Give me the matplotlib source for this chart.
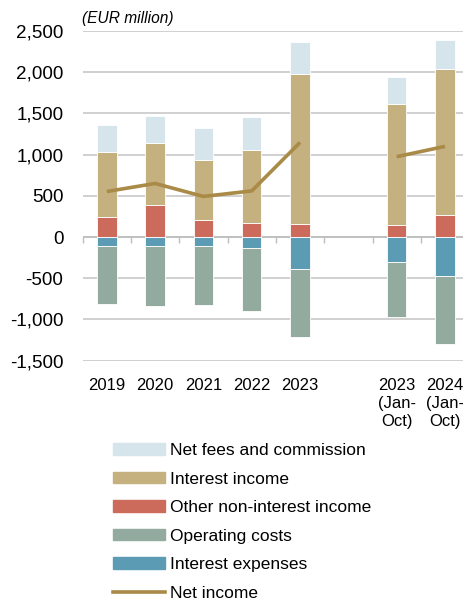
import numpy as np
import matplotlib
matplotlib.use("Agg")
import matplotlib.pyplot as plt
from matplotlib.patches import Patch
from matplotlib.lines import Line2D

plt.rcParams['font.family'] = ['Liberation Sans', 'DejaVu Sans']

categories = ['2019', '2020', '2021', '2022', '2023', '', '2023\n(Jan-\nOct)', '2024\n(Jan-\nOct)']
other_nii = [240, 392, 202, 170, 153, np.nan, 146, 262]
interest_income = [788, 752, 736, 881, 1829, np.nan, 1472, 1781]
net_fees = [331, 328, 384, 402, 388, np.nan, 327, 351]
interest_exp = [-106, -109, -109, -134, -385, np.nan, -300, -470]
operating_costs = [-707, -725, -717, -760, -833, np.nan, -667, -825]
net_income = [553, 650, 493, 560, 1148, np.nan, 975, 1100]
yticks = [-1500, -1000, -500, 0, 500, 1000, 1500, 2000, 2500]

c_fees = '#D6E4EC'
c_int = '#C5B07F'
c_other = '#CC6A5C'
c_op = '#93AB9F'
c_iexp = '#5B9BB3'
c_net = '#A98A47'

W, H, DPI = 463, 602, 100
fig = plt.figure(figsize=(W / DPI, H / DPI), dpi=DPI)
ax = fig.add_axes([82.7 / W, 1 - 360.7 / H, (W - 82.7) / W, (360.7 - 31) / H])

x = np.arange(len(categories))
oth = np.array(other_nii, float)
ii = np.array(interest_income, float)
fe = np.array(net_fees, float)
ie = np.array(interest_exp, float)
oc = np.array(operating_costs, float)

bw = 0.4
ekw = dict(edgecolor='white', linewidth=0.6, zorder=3)
ax.bar(x, oth, bw, color=c_other, **ekw)
ax.bar(x, ii, bw, bottom=oth, color=c_int, **ekw)
ax.bar(x, fe, bw, bottom=oth + ii, color=c_fees, **ekw)
ax.bar(x, ie, bw, color=c_iexp, **ekw)
ax.bar(x, oc, bw, bottom=ie, color=c_op, **ekw)
ax.plot(x, net_income, color=c_net, linewidth=2.6, zorder=4, solid_capstyle='butt')

ax.set_ylim(-1500, 2500)
ax.set_xlim(-0.5, -0.5 + (W - 82.7) / 48.3)
ax.set_yticks(yticks)
ax.set_yticklabels([f'{v:,}' for v in yticks], fontsize=13.6)
ax.tick_params(axis='y', length=0, pad=14)
ax.yaxis.grid(True, color='#C8C8C8', linewidth=1.2, zorder=0)
ax.set_axisbelow(True)
ax.axhline(0, color='#BDBDBD', linewidth=1.2, zorder=2)

ax.set_xticks(x)
ax.set_xticklabels(categories, fontsize=12, linespacing=1.25, va='top')
ax.tick_params(axis='x', length=0, pad=12.5)
for s in ax.spines.values():
    s.set_visible(False)

# tick marks along zero line at category boundaries
ylo, yhi = ax.get_ylim()
sec = ax.secondary_xaxis((0 - ylo) / (yhi - ylo))
sec.set_xticks(np.arange(len(categories) + 1) - 0.5)
sec.set_xticklabels([])
sec.tick_params(axis='x', length=4.3, width=1.0, color='#BDBDBD', direction='out')
sec.spines['bottom'].set_visible(False)

fig.text(81.5 / W, 1 - 19 / H, '(EUR million)', fontsize=11.2, style='italic',
         ha='left', va='center')

handles = [Patch(color=c_fees), Patch(color=c_int), Patch(color=c_other),
           Patch(color=c_op), Patch(color=c_iexp),
           Line2D([], [], color=c_net, linewidth=2.6)]
labels = ['Net fees and commission', 'Interest income', 'Other non-interest income',
          'Operating costs', 'Interest expenses', 'Net income']
fig.legend(handles, labels, loc='upper left', bbox_to_anchor=(112.7 / W, 1 - 443 / H),
           frameon=False, fontsize=12.5, handlelength=3.0, handleheight=0.63,
           handletextpad=0.3, labelspacing=0.78, borderpad=0, borderaxespad=0)

fig.savefig('out.png', dpi=DPI)
